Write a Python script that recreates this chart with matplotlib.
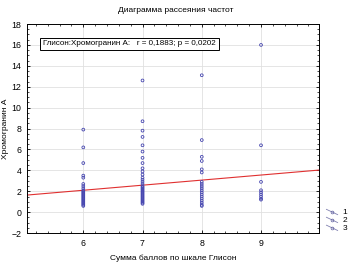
import numpy as np
import matplotlib.pyplot as plt
from matplotlib.lines import Line2D
from matplotlib.ticker import MultipleLocator

# Gleason score groups and chromogranin A values
g6 = [7.9, 6.2, 4.7, 3.5, 3.3, 2.7, 2.5, 2.3, 2.1, 2.0, 1.9, 1.8, 1.7, 1.6, 1.5,
      1.4, 1.3, 1.2, 1.1, 1.0, 0.9, 0.8, 0.7, 0.6]
g7 = [12.6, 8.7, 7.8, 7.2, 6.4, 5.8, 5.2, 4.7, 4.2, 3.9, 3.6, 3.3, 3.1, 2.9, 2.7,
      2.5, 2.4, 2.3, 2.2, 2.1, 2.0, 1.9, 1.8, 1.7, 1.6, 1.5, 1.4, 1.3, 1.2, 1.1,
      1.0, 0.9, 0.8]
g8 = [13.1, 6.9, 5.3, 4.9, 4.1, 3.8, 2.9, 2.7, 2.5, 2.3, 2.1, 1.9, 1.7, 1.5,
      1.3, 1.1, 0.9, 0.7, 0.6]
g9 = [16.0, 6.4, 2.9, 2.1, 1.9, 1.7, 1.5, 1.3, 1.2]
groups = [6, 7, 8, 9]
values = [g6, g7, g8, g9]

# regression line
intercept = -0.81
slope = 0.485

plt.rcParams['font.family'] = ['Liberation Sans', 'DejaVu Sans']
fig = plt.figure(figsize=(3.51, 2.64), dpi=100)
ax = fig.add_axes([0.077, 0.117, 0.832, 0.792])

for g, v in zip(groups, values):
    ax.scatter([g] * len(v), v, s=4, facecolors='none', edgecolors='#4646b0',
               linewidths=0.6, zorder=3)

xl = np.array([5.05, 9.98])
ax.plot(xl, intercept + slope * xl, color='#e03030', lw=0.8, zorder=2)

ax.set_xlim(xl[0], xl[1])
ax.set_ylim(-2, 18)
ax.set_xticks(groups)
ax.yaxis.set_major_locator(MultipleLocator(2))
ax.xaxis.set_minor_locator(MultipleLocator(0.2))
ax.yaxis.set_minor_locator(MultipleLocator(0.5))
ax.tick_params(which='both', direction='in', top=True, right=True, labelsize=6.3, pad=4)
ax.tick_params(which='major', length=2.5, width=0.6)
ax.tick_params(which='minor', length=1.2, width=0.5)
ax.grid(True, color='#e0e0e0', lw=0.6)
for s in ax.spines.values():
    s.set_linewidth(0.7)

ax.set_xlabel('Сумма баллов по шкале Глисон', fontsize=6, labelpad=5)
ax.set_ylabel('Хромогранин А', fontsize=6, labelpad=2)
fig.text(0.5, 0.962, 'Диаграмма рассеяния частот', ha='center', va='center', fontsize=6)

ax.text(0.055, 0.905, 'Глисон:Хромогранин А:   r = 0,1883; p = 0,0202', transform=ax.transAxes,
        fontsize=5.8, va='center', ha='left',
        bbox=dict(boxstyle='square,pad=0.35', fc='white', ec='black', lw=0.7))

# little legend outside at lower right
for i, lab in enumerate(['1', '2', '3']):
    y0 = 0.195 - i * 0.03
    fig.add_artist(Line2D([0.93, 0.962], [y0 + 0.012, y0 - 0.008], color='#8080b0', lw=0.6))
    fig.add_artist(Line2D([0.946], [y0 + 0.002], marker='o', ms=2, mfc='none',
                          mec='#6060a0', mew=0.5))
    fig.text(0.975, y0, lab, fontsize=6, va='center', ha='left')

fig.savefig('out.png', dpi=100)
